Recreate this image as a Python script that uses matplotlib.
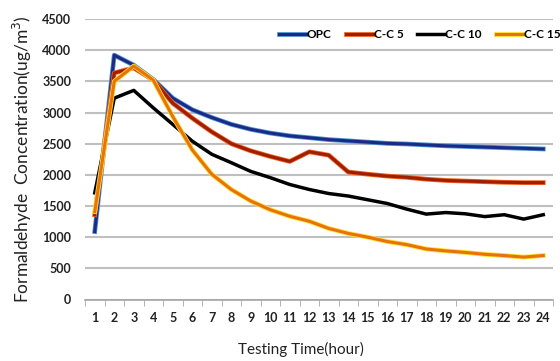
import matplotlib
matplotlib.use("Agg")
import matplotlib.pyplot as plt
import matplotlib.patheffects as pe
from matplotlib.ticker import FixedLocator

hours = list(range(1, 25))
opc = [1090, 3920, 3760, 3530, 3230, 3045, 2920, 2810, 2730, 2670, 2625, 2595,
       2565, 2545, 2525, 2505, 2495, 2480, 2465, 2455, 2445, 2435, 2425, 2415]
cc5 = [1360, 3635, 3715, 3520, 3150, 2910, 2690, 2500, 2385, 2295, 2215, 2370,
       2315, 2045, 2010, 1980, 1960, 1930, 1910, 1900, 1890, 1880, 1875, 1875]
cc10 = [1710, 3230, 3355, 3075, 2810, 2540, 2330, 2195, 2055, 1955, 1845, 1765,
        1700, 1660, 1600, 1540, 1450, 1370, 1395, 1375, 1330, 1360, 1290, 1360]
cc15 = [1410, 3500, 3745, 3520, 2935, 2400, 2010, 1765, 1580, 1440, 1335, 1255,
        1140, 1060, 1000, 930, 880, 810, 780, 755, 725, 705, 680, 705]
series_names = ["OPC", "C-C 5", "C-C 10", "C-C 15"]
ytick_vals = [0, 500, 1000, 1500, 2000, 2500, 3000, 3500, 4000, 4500]

plt.rcParams['font.family'] = ['Lato', 'DejaVu Sans']

fig = plt.figure(figsize=(5.6, 3.61), dpi=100)
ax = fig.add_axes([85/560, 1-299.5/361, (553-85)/560, (299.5-19)/361])

styles = [
    dict(color="#1A2A85", edge="#4F8FD0", lw=2.2),
    dict(color="#A01E00", edge="#F06020", lw=2.2),
    dict(color="#000000", edge=None, lw=2.5),
    dict(color="#E8720C", edge="#FFE030", lw=2.2),
]
for name, vals, st in zip(series_names, [opc, cc5, cc10, cc15], styles):
    effects = []
    if st["edge"]:
        effects = [pe.Stroke(linewidth=3.4, foreground=st["edge"]), pe.Normal()]
    ax.plot(hours, vals, color=st["color"], lw=st["lw"], label=name,
            solid_joinstyle="round", path_effects=effects, zorder=3)

ax.set_xlim(0.5, 24.5)
ax.set_ylim(0, 4500)
ax.set_yticks(ytick_vals)
ax.set_xticks(hours)
ax.xaxis.set_minor_locator(FixedLocator([h + 0.5 for h in range(0, 25)]))
ax.tick_params(axis='x', which='major', length=0, pad=9)
ax.tick_params(axis='x', which='minor', length=4, color="#A6A6A6", direction='out')
ax.tick_params(axis='y', length=0, pad=10)
for lab in ax.get_xticklabels() + ax.get_yticklabels():
    lab.set_fontweight('bold')
    lab.set_fontsize(9)
    lab.set_color('#222222')

ax.grid(axis='y', color="#BFBFBF", lw=1.5, zorder=0)
ax.set_axisbelow(True)
for s in ["left", "right", "top"]:
    ax.spines[s].set_visible(False)
ax.spines["bottom"].set_color("#A6A6A6")
ax.spines["bottom"].set_linewidth(1.2)

fig.text(22/560, 1-159/361, "Formaldehyde  Concentration(ug/m$^3$)", rotation=90,
         ha='center', va='center', fontsize=12.5, color='#222222')
fig.text(301/560, 1-349/361, "Testing Time(hour)", ha='center', va='center',
         fontsize=11, color='#222222')

leg = ax.legend(loc='center left', bbox_to_anchor=(279/560, 1-35/361),
                bbox_transform=fig.transFigure, ncol=4, frameon=False,
                handlelength=2.3, handletextpad=0.05, columnspacing=1.2,
                borderpad=0.0, borderaxespad=0.0,
                prop={'weight': 'bold', 'size': 8.5})

fig.savefig("out.png", dpi=100)
